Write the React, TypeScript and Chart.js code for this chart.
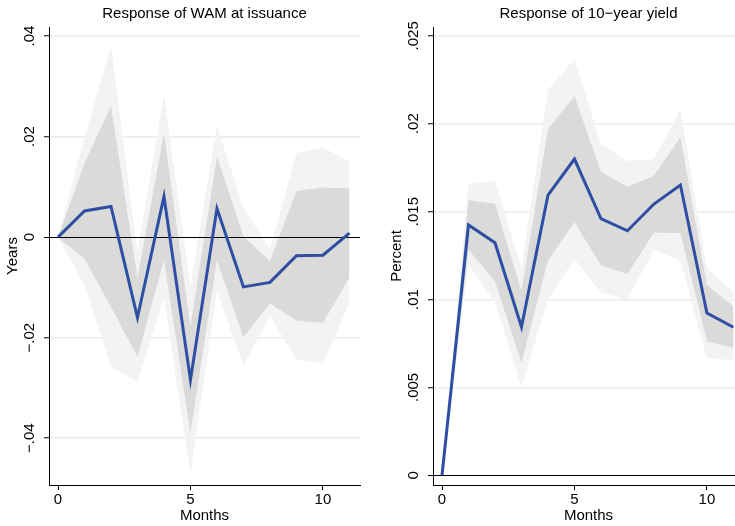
import React, { useEffect, useRef } from "react";
import { Chart, registerables } from "chart.js";

Chart.register(...registerables);

const FONT = '"Liberation Sans", Arial, Helvetica, sans-serif';

// ---- data ----
const months = [0, 1, 2, 3, 4, 5, 6, 7, 8, 9, 10, 11];
const xTicks = [0, 5, 10];

// Response of WAM at issuance (years)
const wamIrf = [0, 0.0052, 0.0061, -0.016, 0.0081, -0.0284, 0.0057, -0.0099, -0.009, -0.0037, -0.0036, 0.0008];
const wamLo68 = [0, -0.0043, -0.0139, -0.0238, -0.0045, -0.039, -0.0046, -0.0199, -0.0132, -0.0166, -0.0171, -0.008];
const wamHi68 = [0, 0.0147, 0.0261, -0.0082, 0.0207, -0.0178, 0.016, 0.0002, -0.0048, 0.0092, 0.0099, 0.0097];
const wamLo90 = [0, -0.0095, -0.0258, -0.0288, -0.012, -0.047, -0.0107, -0.0256, -0.0157, -0.0243, -0.0251, -0.0131];
const wamHi90 = [0, 0.0198, 0.038, -0.003, 0.0282, -0.0098, 0.0222, 0.0058, -0.0023, 0.0167, 0.0179, 0.015];
const wamYTicks = [-0.04, -0.02, 0, 0.02, 0.04];
const wamYLabels = ["\u2212.04", "\u2212.02", "0", ".02", ".04"];

// Response of 10-year yield (percent)
const yieldIrf = [0, 0.01424, 0.01323, 0.00844, 0.01594, 0.01799, 0.0146, 0.01391, 0.01543, 0.01651, 0.00923, 0.00842];
const yieldLo68 = [0, 0.01283, 0.01103, 0.0064, 0.01222, 0.0144, 0.01195, 0.01145, 0.0138, 0.01378, 0.00763, 0.00725];
const yieldHi68 = [0, 0.01564, 0.01545, 0.0105, 0.01968, 0.02158, 0.01727, 0.01642, 0.01704, 0.01923, 0.01083, 0.0096];
const yieldLo90 = [0, 0.01195, 0.00985, 0.00502, 0.00998, 0.0123, 0.0104, 0.01, 0.01285, 0.0122, 0.00666, 0.00655];
const yieldHi90 = [0, 0.01655, 0.01674, 0.0118, 0.02192, 0.02368, 0.01885, 0.01788, 0.01798, 0.02082, 0.0118, 0.0104];
const yieldYTicks = [0, 0.005, 0.01, 0.015, 0.02, 0.025];
const yieldYLabels = ["0", ".005", ".01", ".015", ".02", ".025"];

const LINE_COLOR = "#2c4fa3";
const BAND68 = "#dadad9";
const BAND90 = "#f2f3f4";
const GRID = "#e6eef0";

type Panel = {
  title: string;
  yTitle: string;
  irf: number[];
  lo68: number[];
  hi68: number[];
  lo90: number[];
  hi90: number[];
  yMin: number;
  yMax: number;
  yTicks: number[];
  yLabels: string[];
};

const panels: Panel[] = [
  {
    title: "Response of WAM at issuance",
    yTitle: "Years",
    irf: wamIrf,
    lo68: wamLo68,
    hi68: wamHi68,
    lo90: wamLo90,
    hi90: wamHi90,
    yMin: -0.0493,
    yMax: 0.0418,
    yTicks: wamYTicks,
    yLabels: wamYLabels,
  },
  {
    title: "Response of 10\u2212year yield",
    yTitle: "Percent",
    irf: yieldIrf,
    lo68: yieldLo68,
    hi68: yieldHi68,
    lo90: yieldLo90,
    hi90: yieldHi90,
    yMin: -0.00055,
    yMax: 0.0255,
    yTicks: yieldYTicks,
    yLabels: yieldYLabels,
  },
];

const decor = {
  id: "decor",
  beforeDatasetDraw(chart: any, args: any) {
    if (args.index !== 0) return;
    const { ctx, chartArea } = chart;
    const y = Math.round(chart.scales.y.getPixelForValue(0)) + 0.5;
    ctx.save();
    ctx.strokeStyle = "#000";
    ctx.lineWidth = 1;
    ctx.beginPath();
    ctx.moveTo(chartArea.left, y);
    ctx.lineTo(chartArea.right, y);
    ctx.stroke();
    ctx.restore();
  },
  afterDraw(chart: any, _args: any, opts: any) {
    const { ctx, chartArea } = chart;
    ctx.save();
    ctx.fillStyle = "#000";
    ctx.font = `15px ${FONT}`;
    ctx.textAlign = "center";
    ctx.textBaseline = "middle";
    ctx.fillText(opts.title, (chartArea.left + chartArea.right) / 2, 14);
    const ys = chart.scales.y;
    (opts.ticks as number[]).forEach((v, i) => {
      const py = ys.getPixelForValue(v);
      ctx.save();
      ctx.translate(34, py);
      ctx.rotate(-Math.PI / 2);
      ctx.textAlign = "center";
      ctx.textBaseline = "alphabetic";
      ctx.fillText(opts.labels[i], 0, 0);
      ctx.restore();
    });
    ctx.restore();
  },
};

function pts(arr: number[]) {
  return months.map((m, i) => ({ x: m, y: arr[i] }));
}

function makeConfig(p: Panel): any {
  const band = { pointRadius: 0, borderWidth: 0, tension: 0 };
  return {
    type: "line",
    data: {
      datasets: [
        { data: pts(p.irf), borderColor: LINE_COLOR, borderWidth: 3, pointRadius: 0, fill: false, tension: 0, borderJoinStyle: "miter" },
        { ...band, data: pts(p.hi68), backgroundColor: BAND68, borderColor: BAND68, fill: "+1" },
        { ...band, data: pts(p.lo68), backgroundColor: BAND68, borderColor: BAND68, fill: false },
        { ...band, data: pts(p.hi90), backgroundColor: BAND90, borderColor: BAND90, fill: "+1" },
        { ...band, data: pts(p.lo90), backgroundColor: BAND90, borderColor: BAND90, fill: false },
      ],
    },
    options: {
      responsive: false,
      animation: false,
      events: [],
      layout: { padding: { top: 27, left: 0, right: 10, bottom: 0 } },
      plugins: {
        legend: { display: false },
        tooltip: { enabled: false },
        title: { display: false },
        decor: { title: p.title, ticks: p.yTicks, labels: p.yLabels },
      },
      scales: {
        x: {
          type: "linear",
          min: -0.34,
          max: 11.4,
          afterBuildTicks: (s: any) => {
            s.ticks = xTicks.map((v) => ({ value: v }));
          },
          afterFit: (s: any) => {
            s.height = 41;
          },
          ticks: {
            display: true,
            padding: 1,
            color: "#000",
            font: { family: FONT, size: 15 },
            callback: (v: any) => String(v),
            maxRotation: 0,
            minRotation: 0,
          },
          grid: { drawOnChartArea: false, drawTicks: true, tickLength: 5, tickColor: "#000", tickWidth: 1 },
          border: { display: true, color: "#000", width: 1 },
          title: {
            display: true,
            text: "Months",
            color: "#000",
            font: { family: FONT, size: 15 },
            padding: { top: 0, bottom: 1 },
          },
        },
        y: {
          type: "linear",
          min: p.yMin,
          max: p.yMax,
          afterBuildTicks: (s: any) => {
            s.ticks = p.yTicks.map((v) => ({ value: v }));
          },
          afterFit: (s: any) => {
            s.width = 49;
          },
          ticks: { display: false },
          grid: {
            drawOnChartArea: true,
            drawTicks: true,
            tickLength: 5,
            tickColor: "#000",
            tickWidth: 1,
            color: (c: any) => (c.tick && Math.abs(c.tick.value) < 1e-12 ? "#000" : GRID),
            lineWidth: (c: any) => (c.tick && Math.abs(c.tick.value) < 1e-12 ? 1 : 1.5),
          },
          border: { display: true, color: "#000", width: 1 },
          title: {
            display: true,
            text: p.yTitle,
            color: "#000",
            font: { family: FONT, size: 15 },
            padding: { top: 4, bottom: 0 },
          },
        },
      },
    },
    plugins: [decor],
  };
}

function PanelChart({ panel, left }: { panel: Panel; left: number }) {
  const ref = useRef<HTMLCanvasElement | null>(null);
  useEffect(() => {
    if (!ref.current) return;
    const chart = new Chart(ref.current, makeConfig(panel));
    return () => chart.destroy();
  }, [panel]);
  return (
    <canvas
      ref={ref}
      width={370}
      height={526}
      style={{ position: "absolute", left, top: 0, width: 370, height: 526 }}
    />
  );
}

export default function App() {
  return (
    <div
      style={{
        position: "absolute",
        left: 0,
        top: 0,
        width: 735,
        height: 526,
        overflow: "hidden",
        background: "#fff",
      }}
    >
      <PanelChart panel={panels[0]} left={0} />
      <PanelChart panel={panels[1]} left={384} />
    </div>
  );
}
